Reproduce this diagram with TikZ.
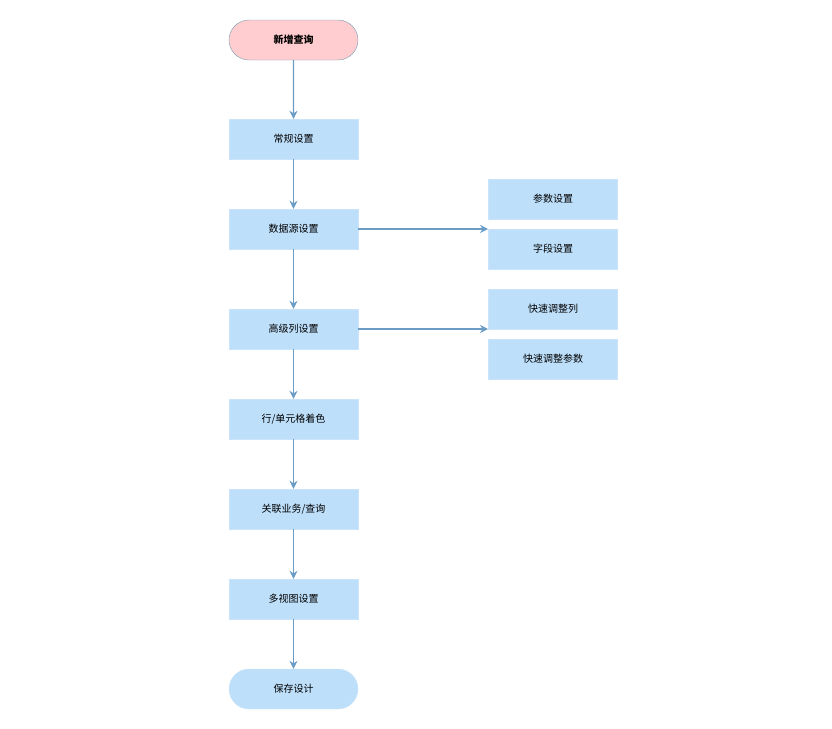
\documentclass[tikz,border=0pt]{standalone}
\usepackage{fontspec}
\newfontfamily\cjk{Noto Sans CJK SC}
\usetikzlibrary{arrows.meta,shapes.misc}
\definecolor{boxc}{HTML}{BDDFFA}
\definecolor{arr}{HTML}{6A9CC6}
\definecolor{pinkc}{HTML}{FFCCD0}
\definecolor{bord}{HTML}{7A9FB0}
\begin{document}
\begin{tikzpicture}[x=1pt,y=-1pt,
  box/.style={fill=boxc,draw=boxc!80!white,minimum width=129pt,minimum height=40pt,inner sep=0pt,font=\cjk\fontsize{10}{12}\selectfont},
  term/.style={box,rounded rectangle},
  ar/.style={draw=arr,line width=1.4pt,-{Stealth[length=8pt,width=8pt]}}]
\useasboundingbox (0,0) rectangle (832,728);
\node[term,fill=pinkc,draw=bord,font=\cjk\bfseries\fontsize{10}{12}\selectfont] (a) at (293.5,40) {新增查询};
\node[box] (b) at (293.5,139) {常规设置};
\node[box] (c) at (293.5,229) {数据源设置};
\node[box] (d) at (293.5,329) {高级列设置};
\node[box] (e) at (293.5,419) {行/单元格着色};
\node[box] (f) at (293.5,509) {关联业务/查询};
\node[box] (g) at (293.5,599) {多视图设置};
\node[term] (h) at (293.5,689) {保存设计};
\node[box] (r1) at (553,199) {参数设置};
\node[box] (r2) at (553,249) {字段设置};
\node[box] (r3) at (553,309) {快速调整列};
\node[box] (r4) at (553,359) {快速调整参数};
\coordinate (c2) at (488,229);
\coordinate (d2) at (488,329);
\draw[ar] (a) -- (b);
\draw[ar] (b) -- (c);
\draw[ar] (c) -- (d);
\draw[ar] (d) -- (e);
\draw[ar] (e) -- (f);
\draw[ar] (f) -- (g);
\draw[ar] (g) -- (h);
\draw[ar] (c.east) -- (c2);
\draw[ar] (d.east) -- (d2);
\end{tikzpicture}
\end{document}
